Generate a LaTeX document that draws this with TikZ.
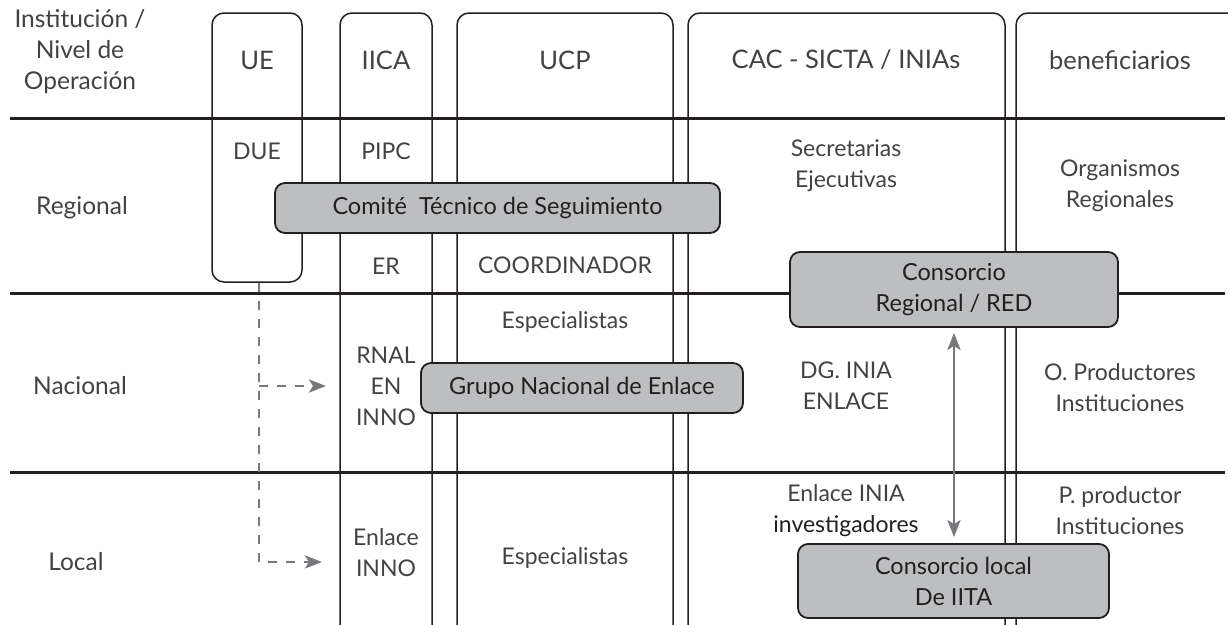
\documentclass[tikz,border=0pt]{standalone}
\usepackage{fontspec}
\setmainfont{Lato}
\usetikzlibrary{arrows.meta}
\definecolor{ink}{RGB}{35,31,32}
\definecolor{panelgray}{RGB}{188,190,192}
\definecolor{arrowgray}{RGB}{119,120,123}
\tikzset{
  >={Stealth[length=17pt,width=13pt,inset=4pt]},
  lane/.style={draw=ink,line width=1.5pt,rounded corners=12pt},
  levelrule/.style={draw=ink,line width=3pt},
  panel/.style={draw=ink,fill=panelgray,line width=1.8pt,rounded corners=10pt,
    align=center,font=\fontsize{23.5}{31}\selectfont,text=ink,inner sep=0pt},
  tag/.style={font=\fontsize{23}{31}\selectfont,text=ink!85,align=center,inner sep=0pt},
  head/.style={tag,font=\fontsize{25.5}{31}\selectfont},
  side/.style={tag,font=\fontsize{24.5}{31}\selectfont},
  flow/.style={draw=arrowgray,line width=2.8pt},
  dashflow/.style={flow,->,dash pattern=on 9pt off 9pt},
}
\begin{document}
\begin{tikzpicture}[x=1pt,y=-1pt]
  \clip (0,0) rectangle (1228,624);
  % columnas
  \draw[lane] (212,13) rectangle (302,282);
  \draw[lane] (340,13) rectangle (432,645);
  \draw[lane] (457,13) rectangle (673,645);
  \draw[lane] (688,13) rectangle (1005,645);
  \draw[lane] (1016,13) rectangle (1260,645);
  % niveles
  \foreach \y in {118,293,472} \draw[levelrule] (10,\y) -- (1225,\y);

  % encabezados
  \node[side] (hdr) at (80,52) {Institución /\\Nivel de\\Operación};
  \node[head] (ue) at (257,60) {UE};
  \node[head] (iica) at (386,60) {IICA};
  \node[head] (ucp) at (565,60) {UCP};
  \node[head] (cac) at (846,60) {CAC - SICTA / INIAs};
  \node[head] (benef) at (1120,60) {beneficiarios};

  \node[side] (regional) at (82,208) {Regional};
  \node[side] (nacional) at (80,386) {Nacional};
  \node[side] (local) at (76,562) {Local};

  % regional
  \node[tag] (due) at (257,151) {DUE};
  \node[tag] (pipc) at (386,151) {PIPC};
  \node[tag] (er) at (386,266) {ER};
  \node[tag] (coord) at (565,265) {COORDINADOR};
  \node[tag] (secre) at (846,166) {Secretarias\\Ejecutivas};
  \node[tag] (orgreg) at (1120,186) {Organismos\\Regionales};

  % nacional
  \node[tag] (espnac) at (565,322) {Especialistas};
  \node[tag] (rnal) at (386,386) {RNAL\\EN\\INNO};
  \node[tag] (dginia) at (846,386) {DG. INIA\\ENLACE};
  \node[tag] (oprod) at (1120,388) {O. Productores\\Instituciones};

  % local
  \node[tag] (enlinia) at (846,511) {Enlace INIA\\{\color{ink}investigadores}};
  \node[tag] (pprod) at (1120,511) {P. productor\\Instituciones};
  \node[tag] (enlinno) at (386,553) {Enlace\\INNO};
  \node[tag] (esploc) at (565,558) {Especialistas};

  % cajas grises
  \node[panel,minimum width=445pt,minimum height=50pt] (comite) at (497.5,208) {Comité\ \ Técnico de Seguimiento};
  \node[panel,minimum width=328pt,minimum height=75pt] (creg) at (954,289.5) {Consorcio\\Regional / RED};
  \node[panel,minimum width=322pt,minimum height=50pt] (gne) at (582,388) {Grupo Nacional de Enlace};
  \node[panel,minimum width=311pt,minimum height=74pt] (cloc) at (953.5,581) {Consorcio local\\De IITA};

  % flechas
  \coordinate (dtop) at (259,283);
  \coordinate (dnac) at (326,386);
  \coordinate (dloc) at (322,562);
  \draw[dashflow] (dtop) |- (dloc);
  \draw[dashflow] (dtop |- dnac) -- (dnac);
  \draw[flow,<->,shorten <=5pt,shorten >=6pt] (creg.south) -- (creg.south |- cloc.north);
\end{tikzpicture}
\end{document}
